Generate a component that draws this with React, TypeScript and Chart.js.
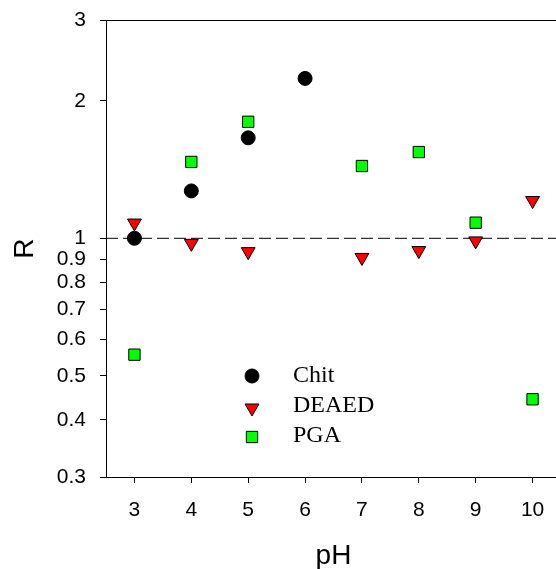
import React, { useEffect, useRef } from 'react';
import { Chart, registerables } from 'chart.js';

Chart.register(...registerables);

// ---- data ----
const phValues = [3, 4, 5, 6, 7, 8, 9, 10];
const chitR = [1.0, 1.27, 1.66, 2.24, null, null, null, null];
const deaedR = [1.08, 0.975, 0.935, null, 0.908, 0.94, 0.987, 1.21];
const pgaR = [0.556, 1.47, 1.8, null, 1.44, 1.545, 1.082, 0.444];
const xTickValues = [3, 4, 5, 6, 7, 8, 9, 10];
const yTickValues = [0.3, 0.4, 0.5, 0.6, 0.7, 0.8, 0.9, 1, 2, 3];
const seriesNames = ['Chit', 'DEAED', 'PGA'];
const referenceLevel = 1;
const xLimits = [2.5, 10.5];
const yLimits = [0.3, 3];

const W = 570;
const H = 580;
const SANS = "'Liberation Sans', Arial, sans-serif";
const SERIF = "'Liberation Serif', 'Times New Roman', serif";

type Style = { pointStyle: string; rotation: number; radius: number; fill: string };
const styles: Style[] = [
  { pointStyle: 'circle', rotation: 0, radius: 7, fill: '#000000' },
  { pointStyle: 'triangle', rotation: 180, radius: 8, fill: '#ff0000' },
  { pointStyle: 'rect', rotation: 0, radius: 8, fill: '#00ff00' },
];

function toPoints(vals: (number | null)[]) {
  return phValues
    .map((x, i) => ({ x, y: vals[i] }))
    .filter((p) => p.y !== null) as { x: number; y: number }[];
}

function drawMarker(ctx: CanvasRenderingContext2D, s: Style, x: number, y: number) {
  ctx.save();
  ctx.beginPath();
  const r = s.radius;
  if (s.pointStyle === 'circle') {
    ctx.arc(x, y, r, 0, Math.PI * 2);
  } else if (s.pointStyle === 'triangle') {
    let rad = (s.rotation * Math.PI) / 180;
    ctx.moveTo(x + Math.sin(rad) * r, y - Math.cos(rad) * r);
    rad += (2 * Math.PI) / 3;
    ctx.lineTo(x + Math.sin(rad) * r, y - Math.cos(rad) * r);
    rad += (2 * Math.PI) / 3;
    ctx.lineTo(x + Math.sin(rad) * r, y - Math.cos(rad) * r);
    ctx.closePath();
  } else {
    const sz = Math.SQRT1_2 * r;
    ctx.rect(x - sz, y - sz, 2 * sz, 2 * sz);
  }
  ctx.fillStyle = s.fill;
  ctx.fill();
  ctx.lineWidth = 1;
  ctx.strokeStyle = '#000';
  ctx.stroke();
  ctx.restore();
}

const framePlugin = {
  id: 'frameAndLegend',
  afterDraw(chart: any) {
    const { ctx, chartArea } = chart;
    ctx.save();
    ctx.strokeStyle = '#000';
    ctx.lineWidth = 1;
    ctx.beginPath();
    const top = Math.floor(chartArea.top) + 0.5;
    ctx.moveTo(chartArea.left, top);
    ctx.lineTo(chartArea.right, top);
    ctx.moveTo(Math.floor(chartArea.right) - 0.5, top);
    ctx.lineTo(Math.floor(chartArea.right) - 0.5, chartArea.bottom);
    ctx.stroke();
    // legend
    const lx = chartArea.left + 146;
    const tx = chartArea.left + 187;
    const rows = [376, 406, 436];
    const markerOffsets = [0, 2, 1];
    ctx.font = `24px ${SERIF}`;
    ctx.fillStyle = '#000';
    ctx.textBaseline = 'middle';
    ctx.textAlign = 'left';
    seriesNames.forEach((name, i) => {
      drawMarker(ctx, styles[i], lx, rows[i] + markerOffsets[i]);
      ctx.fillText(name, tx, rows[i]);
    });
    ctx.restore();
  },
};

export default function App() {
  const ref = useRef<HTMLCanvasElement | null>(null);
  useEffect(() => {
    if (!ref.current) return;
    const datasets: any[] = [chitR, deaedR, pgaR].map((vals, i) => ({
      label: seriesNames[i],
      data: toPoints(vals),
      pointStyle: styles[i].pointStyle,
      rotation: styles[i].rotation,
      pointRadius: styles[i].radius,
      backgroundColor: styles[i].fill,
      borderColor: '#000',
      borderWidth: 1,
      showLine: false,
    }));
    datasets.push({
      label: 'ref',
      type: 'line',
      data: [
        { x: xLimits[0], y: referenceLevel },
        { x: xLimits[1], y: referenceLevel },
      ],
      borderColor: '#000',
      borderWidth: 1,
      borderDash: [12, 5],
      pointRadius: 0,
      showLine: true,
      fill: false,
    });
    const chart = new Chart(ref.current, {
      type: 'scatter',
      data: { datasets },
      plugins: [framePlugin],
      options: {
        animation: false,
        responsive: false,
        devicePixelRatio: 1,
        events: [],
        layout: { padding: { left: 0, right: W - 562, top: 20.5, bottom: 0 } },
        plugins: { legend: { display: false }, tooltip: { enabled: false } },
        scales: {
          x: {
            type: 'linear',
            min: xLimits[0],
            max: xLimits[1],
            afterBuildTicks: (s: any) => {
              s.ticks = xTickValues.map((v) => ({ value: v }));
            },
            afterFit: (s: any) => {
              s.height = H - 477;
            },
            grid: { drawOnChartArea: false, drawTicks: true, tickLength: 6, color: '#000', lineWidth: 1 },
            border: { display: true, color: '#000', width: 1 },
            ticks: {
              color: '#000',
              font: { family: SANS, size: 21 },
              padding: 15,
              autoSkip: false,
              maxRotation: 0,
              callback: (v: any) => String(v),
            },
            title: {
              display: true,
              text: 'pH',
              color: '#000',
              font: { family: SANS, size: 28 },
              padding: { top: 0, bottom: 7 },
            },
          },
          y: {
            type: 'logarithmic',
            min: yLimits[0],
            max: yLimits[1],
            afterBuildTicks: (s: any) => {
              s.ticks = yTickValues.map((v) => ({ value: v }));
            },
            afterFit: (s: any) => {
              s.width = 106;
            },
            grid: { drawOnChartArea: false, drawTicks: true, tickLength: 6, color: '#000', lineWidth: 1 },
            border: { display: true, color: '#000', width: 1 },
            ticks: {
              color: '#000',
              font: { family: SANS, size: 21, lineHeight: 0.5 },
              padding: 14,
              autoSkip: false,
              callback: (v: any) => String(v),
            },
            title: {
              display: true,
              text: 'R',
              color: '#000',
              font: { family: SANS, size: 28 },
              padding: { top: 8, bottom: 0 },
            },
          },
        },
      } as any,
    });
    return () => chart.destroy();
  }, []);
  return (
    <div style={{ position: 'fixed', left: 0, top: 0, width: W, height: H, background: '#fff' }}>
      <canvas ref={ref} width={W} height={H} style={{ display: 'block', width: W, height: H }} />
    </div>
  );
}
